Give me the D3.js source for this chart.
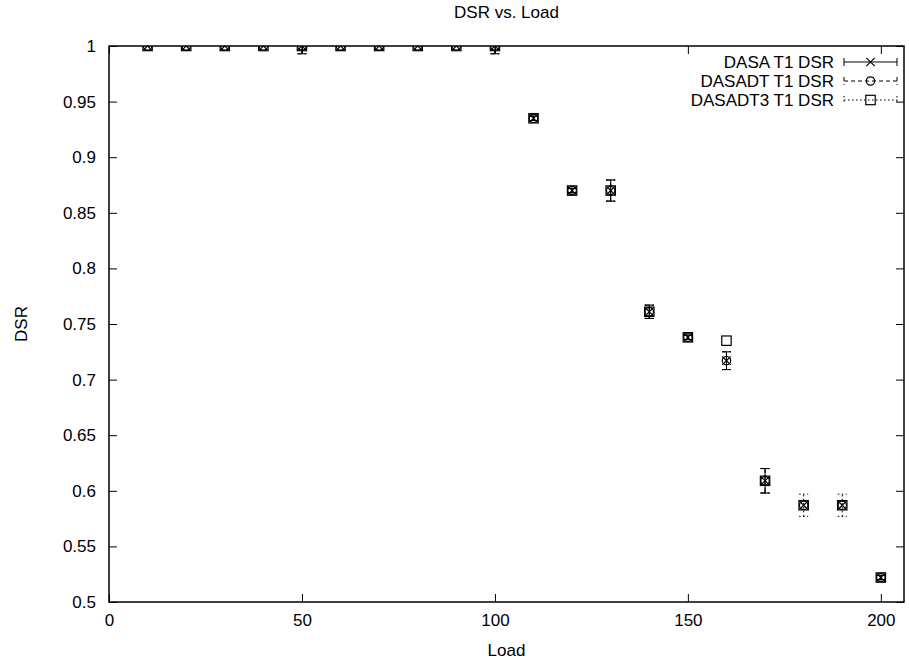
<!DOCTYPE html>
<html>
<head>
<meta charset="utf-8">
<script src="https://cdn.jsdelivr.net/npm/d3@7"></script>
<style>
  html, body { margin: 0; padding: 0; background: #fff; }
  svg { display: block; }
  text { font-family: "Liberation Sans", Arial, Helvetica, sans-serif; fill: #000; }
</style>
</head>
<body>
<svg id="chart" width="909" height="663"></svg>
<script>
// Offered load levels
const loads = [10, 20, 30, 40, 50, 60, 70, 80, 90, 100, 110, 120, 130, 140, 150, 160, 170, 180, 190, 200];

// DASA T1 DSR
const dasaDsr = [1, 1, 1, 1, 1, 1, 1, 1, 1, 1, 0.935, 0.870, 0.870, 0.761, 0.738, 0.717, 0.609, 0.587, 0.587, 0.522];
const dasaErr = [0, 0, 0, 0, 0.007, 0, 0, 0, 0, 0.007, 0.002, 0.002, 0.0095, 0.006, 0.002, 0.008, 0.011, 0, 0, 0.002];

// DASADT T1 DSR
const dasadtDsr = [1, 1, 1, 1, 1, 1, 1, 1, 1, 1, 0.935, 0.870, 0.870, 0.761, 0.738, 0.717, 0.609, 0.587, 0.587, 0.522];
const dasadtErr = [0, 0, 0, 0, 0.007, 0, 0, 0, 0, 0.007, 0.002, 0.002, 0.0095, 0.006, 0.002, 0.008, 0.011, 0, 0, 0.002];

// DASADT3 T1 DSR
const dasadt3Dsr = [1, 1, 1, 1, 1, 1, 1, 1, 1, 1, 0.935, 0.870, 0.870, 0.761, 0.738, 0.735, 0.609, 0.587, 0.587, 0.522];
const dasadt3Err = [0, 0, 0, 0, 0, 0, 0, 0, 0, 0, 0.002, 0.002, 0.0095, 0.006, 0.002, 0, 0.011, 0.010, 0.010, 0.002];

const seriesNames = ["DASA T1 DSR", "DASADT T1 DSR", "DASADT3 T1 DSR"];

const xTicks = [0, 50, 100, 150, 200];
const yTicks = [0.5, 0.55, 0.6, 0.65, 0.7, 0.75, 0.8, 0.85, 0.9, 0.95, 1];

const series = [
  { name: seriesNames[0], values: dasaDsr, errors: dasaErr, dash: null, marker: "cross" },
  { name: seriesNames[1], values: dasadtDsr, errors: dasadtErr, dash: "4,3", marker: "circle" },
  { name: seriesNames[2], values: dasadt3Dsr, errors: dasadt3Err, dash: "1.5,2.5", marker: "square" }
];

const W = 909, H = 663;
const margin = { left: 109, right: 5, top: 46, bottom: 61 };
const svg = d3.select("#chart");

const x = d3.scaleLinear().domain([0, 206]).range([margin.left, W - margin.right]);
const y = d3.scaleLinear().domain([0.5, 1]).range([H - margin.bottom, margin.top]);

const FS = 17;
const tickLen = 8;

// clip region for the data
svg.append("defs").append("clipPath").attr("id", "plotClip")
  .append("rect")
  .attr("x", x.range()[0]).attr("y", y.range()[1])
  .attr("width", x.range()[1] - x.range()[0])
  .attr("height", y.range()[0] - y.range()[1]);

// axes: labels outside, ticks pointing inward and mirrored
const axB = d3.axisBottom(x).tickValues(xTicks).tickSizeInner(-tickLen).tickSizeOuter(0).tickPadding(12).tickFormat(d3.format("d"));
const axT = d3.axisTop(x).tickValues(xTicks).tickSizeInner(-tickLen).tickSizeOuter(0).tickFormat("");
const axL = d3.axisLeft(y).tickValues(yTicks).tickSizeInner(-tickLen).tickSizeOuter(0).tickPadding(13).tickFormat(d => d3.format("")(+d.toFixed(2)));
const axR = d3.axisRight(y).tickValues(yTicks).tickSizeInner(-tickLen).tickSizeOuter(0).tickFormat("");

function styleAxis(g) {
  g.select(".domain").remove();
  g.selectAll(".tick line").attr("stroke", "#000").attr("stroke-width", 1);
  g.selectAll(".tick text").attr("font-size", FS).attr("font-family", "Liberation Sans, Arial, sans-serif").attr("fill", "#000");
}

svg.append("g").attr("transform", `translate(0,${y.range()[0]})`).call(axB).call(styleAxis);
svg.append("g").attr("transform", `translate(0,${y.range()[1]})`).call(axT).call(styleAxis);
svg.append("g").attr("transform", `translate(${x.range()[0]},0)`).call(axL).call(styleAxis);
svg.append("g").attr("transform", `translate(${x.range()[1]},0)`).call(axR).call(styleAxis);

// frame
svg.append("rect")
  .attr("x", x.range()[0]).attr("y", y.range()[1])
  .attr("width", x.range()[1] - x.range()[0])
  .attr("height", y.range()[0] - y.range()[1])
  .attr("fill", "none").attr("stroke", "#000").attr("stroke-width", 1.5);

// titles
svg.append("text").attr("x", (x.range()[0] + x.range()[1]) / 2).attr("y", 18)
  .attr("text-anchor", "middle").attr("font-size", FS).text("DSR vs. Load");
svg.append("text").attr("x", (x.range()[0] + x.range()[1]) / 2).attr("y", 656)
  .attr("text-anchor", "middle").attr("font-size", FS).text("Load");
svg.append("text")
  .attr("transform", `translate(27,${(y.range()[0] + y.range()[1]) / 2}) rotate(-90)`)
  .attr("text-anchor", "middle").attr("font-size", FS).text("DSR");

// marker drawing
function drawMarker(g, type, cx, cy) {
  const r = 4.2;
  if (type === "cross") {
    g.append("path").attr("d", `M${cx - r},${cy - r}L${cx + r},${cy + r}M${cx - r},${cy + r}L${cx + r},${cy - r}`)
      .attr("stroke", "#000").attr("stroke-width", 1.2).attr("fill", "none");
  } else if (type === "circle") {
    g.append("circle").attr("cx", cx).attr("cy", cy).attr("r", r)
      .attr("stroke", "#000").attr("stroke-width", 1.2).attr("fill", "none");
  } else {
    g.append("rect").attr("x", cx - r - 0.5).attr("y", cy - r - 0.5).attr("width", 2 * r + 1).attr("height", 2 * r + 1)
      .attr("stroke", "#000").attr("stroke-width", 1.2).attr("fill", "none");
  }
}

const capW = 4.5;
const plot = svg.append("g").attr("clip-path", "url(#plotClip)");

series.forEach(s => {
  const g = plot.append("g");
  loads.forEach((ld, i) => {
    const v = s.values[i], e = s.errors[i];
    const cx = x(ld);
    if (e > 0) {
      const y1 = y(v - e), y2 = y(v + e);
      g.append("path")
        .attr("d", `M${cx},${y1}L${cx},${y2}M${cx - capW},${y1}L${cx + capW},${y1}M${cx - capW},${y2}L${cx + capW},${y2}`)
        .attr("stroke", "#000").attr("stroke-width", 1).attr("fill", "none")
        .attr("stroke-dasharray", s.dash);
    }
    drawMarker(g, s.marker, cx, y(v));
  });
});

// legend
const legTextX = 834, legX1 = 844, legX2 = 897;
const legY = [62, 81, 100];
series.forEach((s, i) => {
  const ly = legY[i];
  svg.append("text").attr("x", legTextX).attr("y", ly).attr("dy", "0.35em")
    .attr("text-anchor", "end").attr("font-size", FS).text(s.name);
  const g = svg.append("g");
  g.append("path")
    .attr("d", `M${legX1},${ly}L${legX2},${ly}M${legX1},${ly - 4}L${legX1},${ly + 4}M${legX2},${ly - 4}L${legX2},${ly + 4}`)
    .attr("stroke", "#000").attr("stroke-width", 1).attr("fill", "none")
    .attr("stroke-dasharray", s.dash);
  drawMarker(g, s.marker, (legX1 + legX2) / 2, ly);
});
</script>
</body>
</html>
